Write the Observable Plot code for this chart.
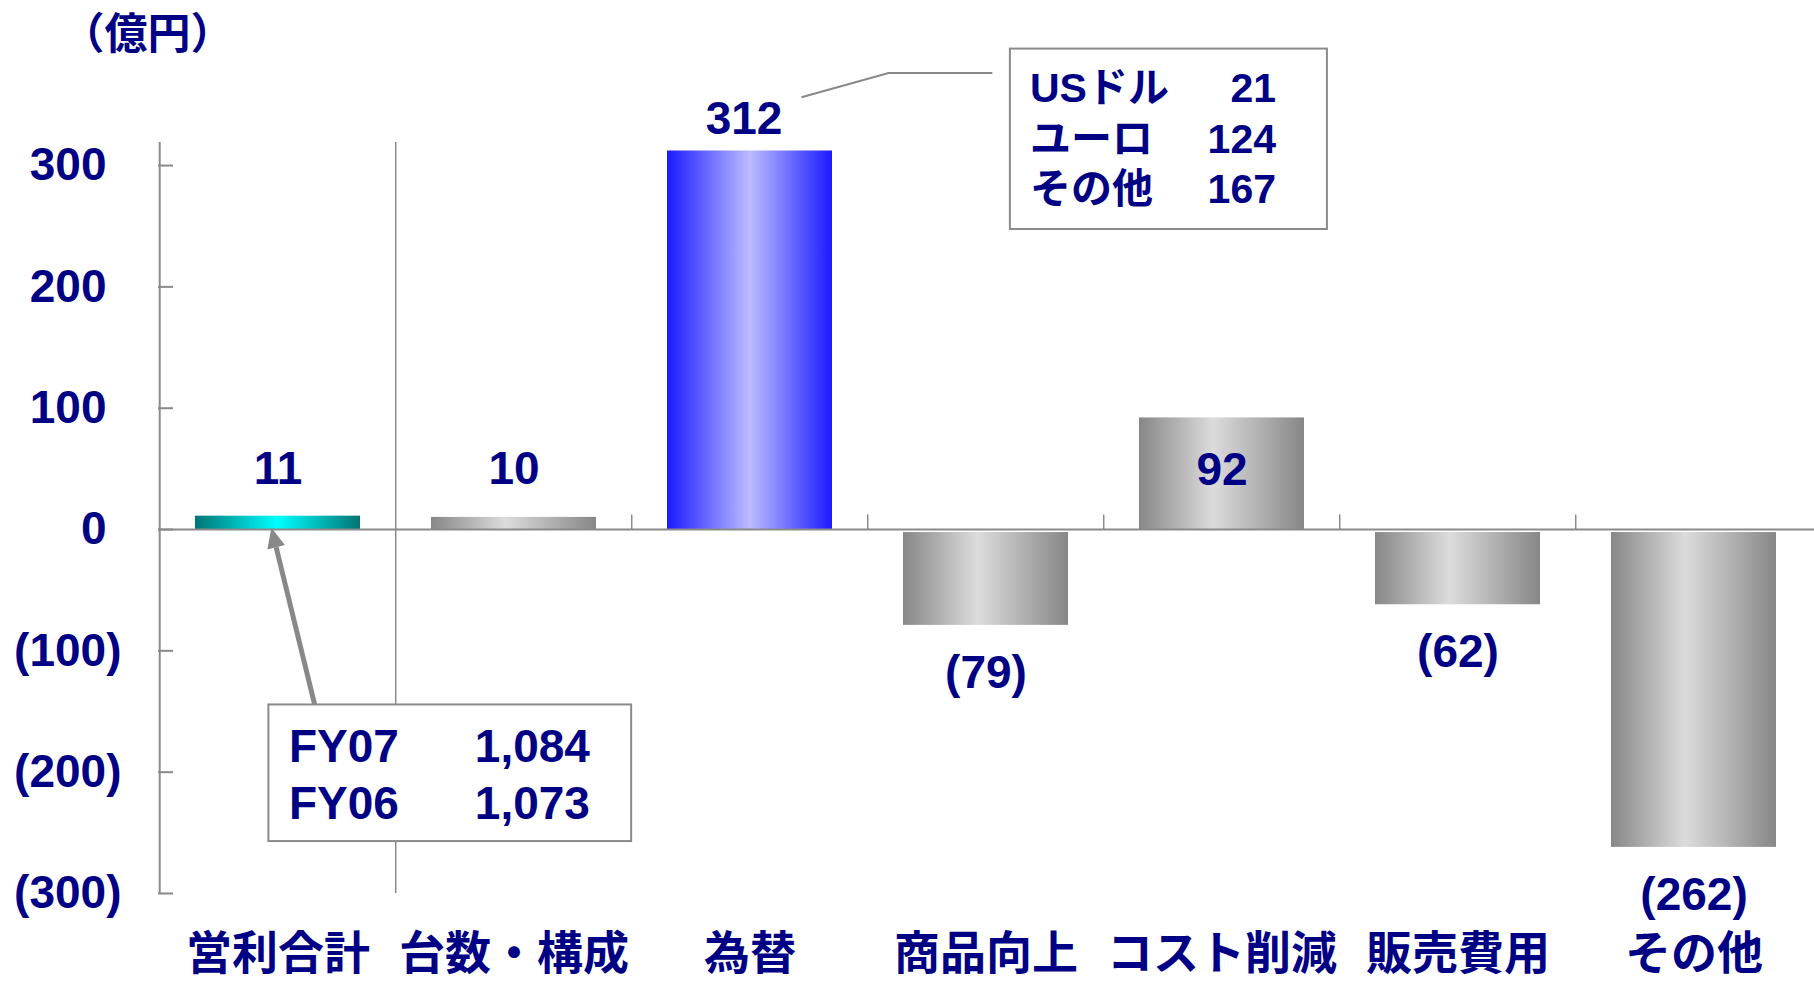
<!DOCTYPE html>
<html><head><meta charset="utf-8">
<script src="https://cdn.jsdelivr.net/npm/d3@7"></script>
<script src="https://cdn.jsdelivr.net/npm/@observablehq/plot@0.6"></script>
<style>html,body{margin:0;padding:0;background:#fff} svg{display:block}</style>
</head><body><div id="chart"></div>
<script>
// ---- data ----
const categories = ["営利合計", "台数・構成", "為替", "商品向上", "コスト削減", "販売費用", "その他"];
const values = [11, 10, 312, -79, 92, -62, -262];
const barStyles = ["teal", "grey", "blue", "grey", "grey", "grey", "grey"];
const yTicks = [300, 200, 100, 0, -100, -200, -300];
const unitLabel = "（億円）";
const totalLabels = ["FY07", "FY06"];
const totalValues = ["1,084", "1,073"];
const fxLabels = ["USドル", "ユーロ", "その他"];
const fxValues = [21, 124, 167];

// ---- layout / style ----
const W = 1814, H = 987, ML = 158, MR = 0, MT = 142, MB = 94;
const step = (W - ML - MR) / categories.length;
const NAVY = "#000085", AXIS = "#8a8a8a";
const numFont = "'Liberation Sans', Arial, 'Noto Sans CJK JP', sans-serif";
const jpFont = "'Noto Sans CJK JP', 'Liberation Sans', sans-serif";
const fmt = v => v < 0 ? `(${Math.abs(v)})` : `${v}`;

const data = categories.map((c, i) => ({cat: c, value: values[i], style: barStyles[i]}));
const txt = {fontWeight: "bold", fill: NAVY, fontFamily: numFont, fontSize: 46};

const plot = Plot.plot({
  width: W, height: H,
  marginLeft: ML, marginRight: MR, marginTop: MT, marginBottom: MB,
  x: {type: "band", domain: categories, paddingInner: 0.3, paddingOuter: 0.15, axis: null},
  y: {domain: [-300, 319], axis: null},
  style: {background: "#fff", overflow: "visible"},
  marks: [
    // bars
    Plot.barY(data.filter(d => d.style === "teal"), {x: "cat", y: "value", fill: "url(#g-teal)"}),
    Plot.barY(data.filter(d => d.style === "blue"), {x: "cat", y: "value", fill: "url(#g-blue)"}),
    Plot.barY(data.filter(d => d.style === "grey" && d.value > 0), {x: "cat", y: "value", fill: "url(#g-grey)"}),
    Plot.barY(data.filter(d => d.style === "grey" && d.value < 0), {x: "cat", y: "value", fill: "url(#g-grey)", insetTop: 3}),
    // zero line (x axis)
    Plot.ruleY([0], {stroke: AXIS, strokeWidth: 2}),
    // y axis line
    Plot.ruleX([categories[0]], {x: d => d, dx: -step / 2, y1: -300, y2: 319, stroke: AXIS, strokeWidth: 2}),
    // full divider line between first two categories
    Plot.ruleX([categories[1]], {x: d => d, dx: -step / 2, y1: -300, y2: 319, stroke: AXIS, strokeWidth: 1.5}),
    // small category-boundary ticks
    Plot.ruleX(categories.slice(2), {x: d => d, dx: -step / 2, y1: 0, y2: 12, stroke: AXIS, strokeWidth: 1.5}),
    // y ticks (inside)
    Plot.ruleY(yTicks, {y: d => d, insetRight: W - ML - MR - 15, stroke: AXIS, strokeWidth: 2}),
    // y tick labels (accounting alignment: positives leave room for the closing paren)
    Plot.text(yTicks.filter(v => v >= 0), {y: d => d, text: fmt, frameAnchor: "left", textAnchor: "end", dx: -52, ...txt}),
    Plot.text(yTicks.filter(v => v < 0), {y: d => d, text: fmt, frameAnchor: "left", textAnchor: "end", dx: -37, ...txt}),
    // category labels
    Plot.text(categories, {x: d => d, text: d => d, frameAnchor: "bottom", dy: 75, textAnchor: "middle", ...txt, fontFamily: jpFont, fontSize: 46}),
    // unit label
    Plot.text([unitLabel], {text: d => d, frameAnchor: "top-left", textAnchor: "middle", dx: -11, dy: -124, ...txt, fontFamily: jpFont, fontSize: 43}),
    // bar value labels
    Plot.text(data.filter(d => d.value > 0 && d.value < 50), {x: "cat", y: () => 0, text: d => fmt(d.value), dy: -60, ...txt}),
    Plot.text(data.filter(d => d.value >= 200), {x: "cat", y: "value", text: d => fmt(d.value), dy: -32, dx: -6, ...txt}),
    Plot.text(data.filter(d => d.value >= 50 && d.value < 200), {x: "cat", y: "value", text: d => fmt(d.value), dy: 52, ...txt}),
    Plot.text(data.filter(d => d.value < 0), {x: "cat", y: "value", text: d => fmt(d.value), dy: 48, ...txt})
  ]
});

document.getElementById("chart").appendChild(plot);

// ---- gradients ----
const svg = d3.select(plot);
const defs = svg.insert("defs", ":first-child");
function grad(id, stops) {
  const g = defs.append("linearGradient").attr("id", id).attr("x1", 0).attr("x2", 1).attr("y1", 0).attr("y2", 0);
  stops.forEach(([o, c]) => g.append("stop").attr("offset", o).attr("stop-color", c));
}
grad("g-teal", [[0, "#007474"], [0.5, "#00ffff"], [1, "#007474"]]);
grad("g-blue", [[0, "#1a1aff"], [0.5, "#bcbcff"], [1, "#1a1aff"]]);
grad("g-grey", [[0, "#878787"], [0.45, "#dcdcdc"], [1, "#878787"]]);

// ---- annotations (positioned through the plot's scales) ----
const xs = plot.scale("x"), ys = plot.scale("y");
const b0 = xs.range[0];
const px = f => b0 + f * step;
const py = v => ys.apply(v);
const ann = svg.append("g");
function label(x, y, s, anchor, size) {
  ann.append("text").attr("x", x).attr("y", y).attr("dy", "0.36em").attr("text-anchor", anchor)
    .attr("font-family", numFont).attr("font-weight", "bold").attr("font-size", size).attr("fill", NAVY).text(s);
}

// total box with arrow to first bar
(function () {
  const x0 = px(0.4666), x1 = px(2.0), yT = py(-144.6), yB = py(-257.2);
  const tail = [px(0.662), yT], tip = [px(0.4793), py(1)];
  const dx = tip[0] - tail[0], dy = tip[1] - tail[1], L = Math.hypot(dx, dy);
  const ux = dx / L, uy = dy / L, hl = 20, hw = 9;
  const base = [tip[0] - ux * hl, tip[1] - uy * hl];
  ann.append("line").attr("x1", tail[0]).attr("y1", tail[1]).attr("x2", base[0]).attr("y2", base[1])
    .attr("stroke", "#888").attr("stroke-width", 5);
  ann.append("polygon").attr("fill", "#888").attr("points", [
    tip, [base[0] - uy * hw, base[1] + ux * hw], [base[0] + uy * hw, base[1] - ux * hw]
  ].map(p => p.join(",")).join(" "));
  ann.append("rect").attr("x", x0).attr("y", yT).attr("width", x1 - x0).attr("height", yB - yT)
    .attr("fill", "#fff").attr("stroke", "#8a8a8a").attr("stroke-width", 2);
  const rowsY = [-178, -225.7];
  totalLabels.forEach((t, i) => {
    label(px(0.5536), py(rowsY[i]), t, "start", 46);
    label(px(1.826), py(rowsY[i]), totalValues[i], "end", 46);
  });
})();

// FX breakdown box with leader line to the 為替 label
(function () {
  const x0 = px(3.601), x1 = px(4.941), yT = py(396), yB = py(247.3);
  ann.append("polyline").attr("fill", "none").attr("stroke", "#888").attr("stroke-width", 2)
    .attr("points", [[px(2.72), py(355.9)], [px(3.088), py(375.9)], [px(3.527), py(375.9)]].map(p => p.join(",")).join(" "));
  ann.append("rect").attr("x", x0).attr("y", yT).attr("width", x1 - x0).attr("height", yB - yT)
    .attr("fill", "#fff").attr("stroke", "#8a8a8a").attr("stroke-width", 2);
  const rowsY = [364.5, 322.5, 280.5];
  fxLabels.forEach((t, i) => {
    label(px(3.686), py(rowsY[i]), t, "start", 41);
    label(px(4.726), py(rowsY[i]), String(fxValues[i]), "end", 41);
  });
})();
</script>
</body></html>
